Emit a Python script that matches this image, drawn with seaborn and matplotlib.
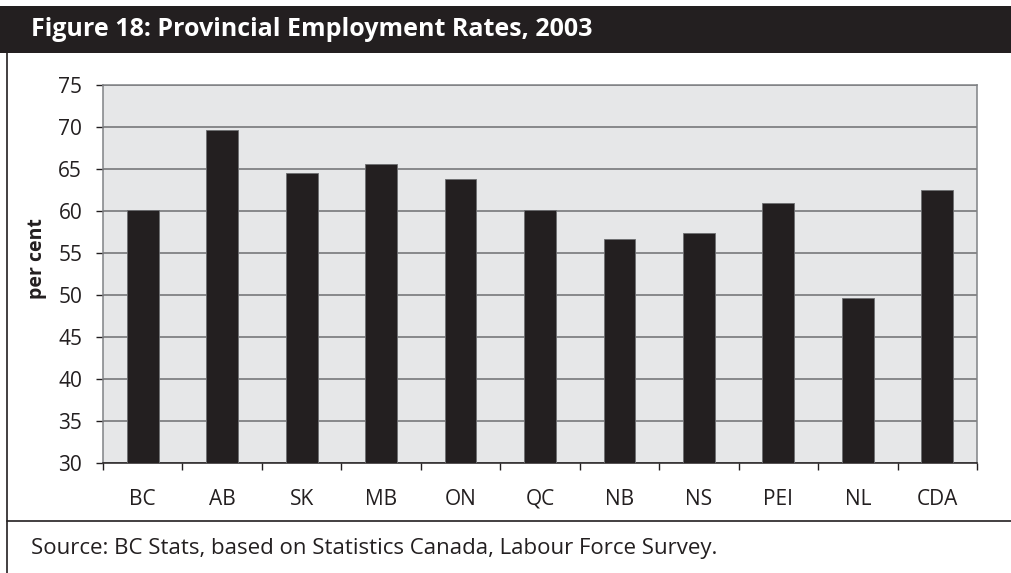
import matplotlib
matplotlib.use("Agg")
import matplotlib.pyplot as plt
from matplotlib.patches import Rectangle
from matplotlib.lines import Line2D
import seaborn as sns
import pandas as pd

provinces = ["BC", "AB", "SK", "MB", "ON", "QC", "NB", "NS", "PEI", "NL", "CDA"]
employment_rate = [60.1, 69.6, 64.5, 65.6, 63.8, 60.1, 56.7, 57.4, 60.9, 49.7, 62.5]
y_ticks = [30, 35, 40, 45, 50, 55, 60, 65, 70, 75]

title_text = "Figure 18: Provincial Employment Rates, 2003"
y_label = "per cent"
source_text = "Source: BC Stats, based on Statistics Canada, Labour Force Survey."

sns.set_theme(style="white")
plt.rcParams["font.family"] = ["Open Sans", "DejaVu Sans"]

INK = "#231f20"
W, H = 1011, 573
fig = plt.figure(figsize=(W / 100, H / 100), dpi=100)

def fx(px):
    return px / W

def fy(py):
    return 1 - py / H

# title banner
fig.patches.append(Rectangle((0, fy(53)), 1, fy(6) - fy(53), transform=fig.transFigure,
                             facecolor=INK, edgecolor="none", zorder=0))
fig.text(fx(31), fy(36), title_text, color="white", fontsize=18, fontweight="bold",
         ha="left", va="baseline")

# frame lines
fig.add_artist(Line2D([fx(7), fx(7)], [fy(53), 0], transform=fig.transFigure,
                      color=INK, lw=1.2))
fig.add_artist(Line2D([fx(7), 1], [fy(521), fy(521)], transform=fig.transFigure,
                      color=INK, lw=1.2))
fig.text(fx(31), fy(554), source_text, fontsize=16, color=INK,
         ha="left", va="baseline")

ax = fig.add_axes([fx(103), fy(463), fx(977) - fx(103), fy(85) - fy(463)])
df = pd.DataFrame({"province": provinces, "rate": employment_rate})
sns.barplot(data=df, x="province", y="rate", ax=ax, color=INK, width=0.4,
            saturation=1, edgecolor="#6d6e71", linewidth=0.6, zorder=3)

ax.set_facecolor("#e6e7e8")
ax.set_ylim(30, 75)
ax.set_xlim(-0.5, len(provinces) - 0.5)
ax.set_yticks(y_ticks)
ax.yaxis.grid(True, color="#6d6e71", lw=1.1, zorder=1)
ax.set_axisbelow(True)
ax.xaxis.grid(False)

for side in ["top", "right", "left"]:
    ax.spines[side].set_color("#808285")
    ax.spines[side].set_linewidth(1.1)
ax.spines["bottom"].set_color(INK)
ax.spines["bottom"].set_linewidth(1.1)

ax.set_xticks(range(len(provinces)))
ax.set_xticklabels(provinces)
ax.tick_params(axis="x", which="major", length=0, pad=18.5, labelsize=15, colors=INK)
ax.set_xticks([i - 0.5 for i in range(len(provinces) + 1)], minor=True)
ax.tick_params(axis="x", which="minor", length=5, width=1, color=INK, bottom=True)
ax.tick_params(axis="y", length=5, width=1, color=INK, pad=10, labelsize=15,
               labelcolor=INK, left=True)

ax.set_xlabel("")
ax.set_ylabel(y_label, fontsize=14, fontweight="bold", color=INK)
ax.yaxis.set_label_coords(-0.064, 0.54)

fig.savefig("out.png", dpi=100)
